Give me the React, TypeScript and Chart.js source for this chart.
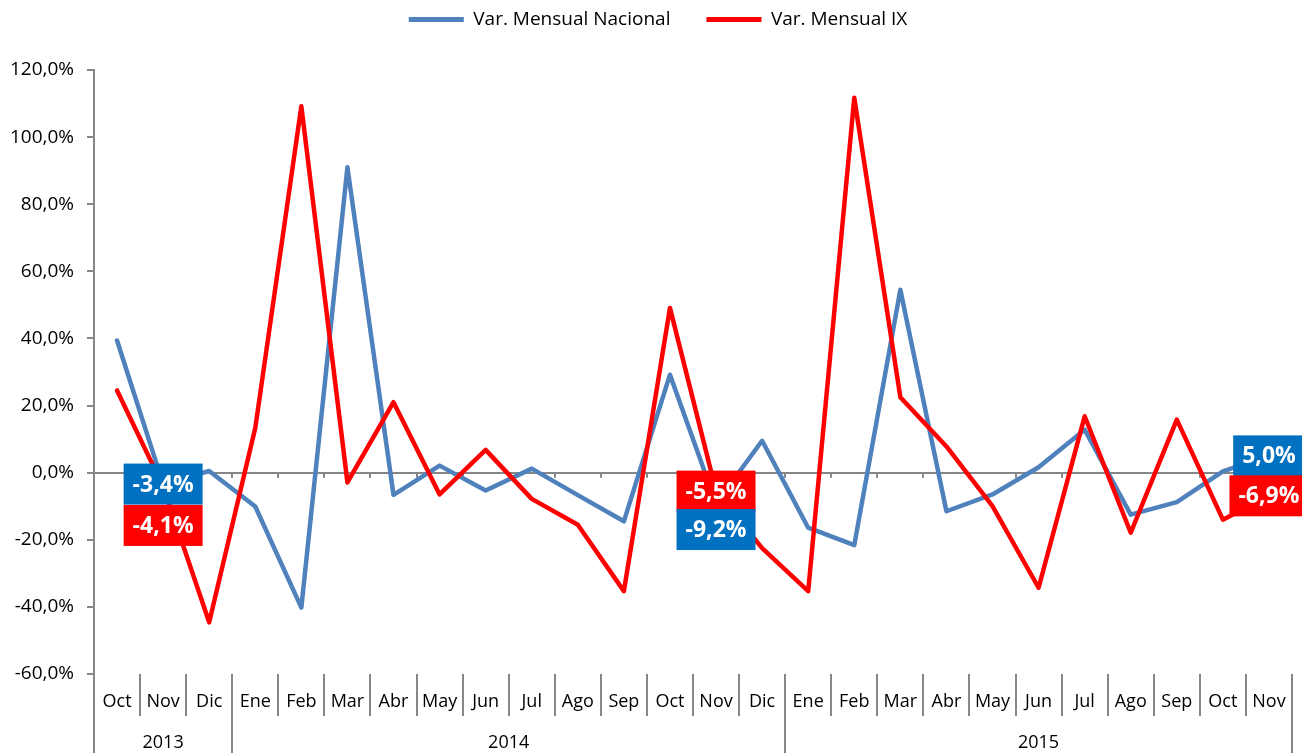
import React, { useEffect, useRef } from 'react';
import { Chart, registerables } from 'chart.js';
Chart.register(...registerables);

const months = ['Oct','Nov','Dic','Ene','Feb','Mar','Abr','May','Jun','Jul','Ago','Sep','Oct','Nov','Dic','Ene','Feb','Mar','Abr','May','Jun','Jul','Ago','Sep','Oct','Nov'];
const years = ['2013', '2014', '2015'];
const yearSpans = [3, 12, 11];
const nacional = [39.4,-3.4,0.5,-10.1,-40.2,91.0,-6.6,2.1,-5.3,1.2,-6.7,-14.5,29.2,-9.2,9.5,-16.4,-21.6,54.5,-11.5,-6.5,1.6,12.8,-12.5,-8.8,0.4,5.0];
const ix = [24.5,-4.1,-44.6,13.3,109.2,-2.9,21.0,-6.5,6.8,-7.8,-15.5,-35.3,49.1,-5.5,-22.5,-35.3,111.7,22.5,7.8,-10.0,-34.3,16.8,-17.9,15.8,-14.0,-6.9];
const seriesNames = ['Var. Mensual Nacional', 'Var. Mensual IX'];
const yMin = -60;
const yMax = 120;
const yStep = 20;
// labelled points: [dataset, index, vertical shift]
const labelDefs = [[0, 1, 0], [1, 1, 39], [1, 13, 0], [0, 13, 26], [0, 25, 0], [1, 25, 0]];

const GRAY = '#868686';
const LINE_COLORS = ['#4F81BD', '#FF0000'];
const BOX_COLORS = ['#0070C0', '#FF0000'];
const FONT = '"Open Sans", "Noto Sans", sans-serif';

const fmt = (v: number) => v.toFixed(1).replace('.', ',') + '%';

export default function App() {
  const ref = useRef<HTMLCanvasElement>(null);
  useEffect(() => {
    document.body.style.margin = '0';
    Chart.defaults.font.family = FONT;
    Chart.defaults.color = '#000';

    const extras = {
      id: 'extras',
      afterInit(chart: any) {
        const lg = chart.legend;
        if (lg) {
          const orig = lg.fit;
          lg.fit = function () {
            orig.call(this);
            this.height = 96;
          };
        }
      },
      afterLayout(chart: any) {
        const lg = chart.legend;
        if (lg) {
          lg.left += 12;
          lg.right += 12;
        }
      },
      beforeDatasetsDraw(chart: any) {
        const ctx = chart.ctx;
        const xs = chart.scales.x;
        const ys = chart.scales.y;
        const n = months.length;
        const w = (xs.right - xs.left) / n;
        const y0 = ys.getPixelForValue(0);
        ctx.save();
        ctx.strokeStyle = GRAY;
        ctx.lineWidth = 2;
        for (let k = 1; k <= n; k++) {
          const x = Math.round(xs.left + k * w);
          ctx.beginPath();
          ctx.moveTo(x, y0);
          ctx.lineTo(x, y0 + 5);
          ctx.stroke();
        }
        ctx.restore();
      },
      afterDatasetsDraw(chart: any) {
        const ctx = chart.ctx;
        ctx.save();
        ctx.font = 'bold 23px ' + FONT;
        ctx.textAlign = 'center';
        ctx.textBaseline = 'middle';
        for (const [ds, idx, dy] of labelDefs) {
          const el = chart.getDatasetMeta(ds).data[idx];
          const v = chart.data.datasets[ds].data[idx] as number;
          const text = fmt(v);
          const tw = ctx.measureText(text).width;
          const bw = tw + 18;
          const bh = 41;
          const cx = el.x;
          const cy = el.y + dy;
          ctx.fillStyle = BOX_COLORS[ds];
          ctx.fillRect(cx - bw / 2, cy - bh / 2, bw, bh);
          ctx.fillStyle = '#FFFFFF';
          ctx.fillText(text, cx, cy + 1);
        }
        ctx.restore();
      },
      afterDraw(chart: any) {
        const ctx = chart.ctx;
        const xs = chart.scales.x;
        const n = months.length;
        const w = (xs.right - xs.left) / n;
        ctx.save();
        ctx.strokeStyle = GRAY;
        ctx.lineWidth = 2;
        ctx.fillStyle = '#000';
        ctx.font = '18px ' + FONT;
        ctx.textAlign = 'center';
        ctx.textBaseline = 'middle';
        let start = 0;
        const bounds = [0];
        years.forEach((yr, i) => {
          const end = start + yearSpans[i];
          const xc = xs.left + ((start + end) / 2) * w;
          ctx.fillText(yr, xc, 743);
          bounds.push(end);
          start = end;
        });
        for (const b of bounds) {
          const x = Math.round(xs.left + b * w);
          ctx.beginPath();
          ctx.moveTo(x, xs.top);
          ctx.lineTo(x, chart.height);
          ctx.stroke();
        }
        ctx.restore();
      },
    };

    const chart = new Chart(ref.current as HTMLCanvasElement, {
      type: 'line',
      data: {
        labels: months,
        datasets: [
          {
            label: seriesNames[0],
            data: nacional,
            borderColor: LINE_COLORS[0],
            backgroundColor: LINE_COLORS[0],
            borderWidth: 4.5,
            pointRadius: 0,
            tension: 0,
            borderCapStyle: 'round',
            borderJoinStyle: 'round',
            order: 2,
          },
          {
            label: seriesNames[1],
            data: ix,
            borderColor: LINE_COLORS[1],
            backgroundColor: LINE_COLORS[1],
            borderWidth: 4.5,
            pointRadius: 0,
            tension: 0,
            borderCapStyle: 'round',
            borderJoinStyle: 'round',
            order: 1,
          },
        ],
      },
      options: {
        responsive: false,
        animation: false,
        devicePixelRatio: 1,
        events: [],
        layout: { padding: { top: -26, left: 0, right: 10, bottom: 0 } },
        plugins: {
          tooltip: { enabled: false },
          legend: {
            display: true,
            position: 'top',
            labels: {
              boxWidth: 55,
              boxHeight: 5,
              padding: 36,
              font: { size: 19, family: FONT },
              color: '#000',
              sort: (a: any, b: any) => a.datasetIndex - b.datasetIndex,
              generateLabels: (chart: any) => {
                const base = Chart.defaults.plugins.legend.labels.generateLabels(chart);
                return base.map((l: any) => ({ ...l, lineWidth: 0, fillStyle: LINE_COLORS[l.datasetIndex], strokeStyle: LINE_COLORS[l.datasetIndex] }));
              },
            },
          },
        },
        scales: {
          x: {
            type: 'category',
            offset: true,
            border: { display: false },
            grid: {
              display: true,
              offset: true,
              drawOnChartArea: false,
              drawTicks: true,
              tickLength: 42,
              color: GRAY,
              lineWidth: 2,
            },
            ticks: {
              autoSkip: false,
              maxRotation: 0,
              padding: -25,
              font: { size: 18, family: FONT },
              color: '#000',
            },
            afterFit: (s: any) => { s.height = 79; },
          },
          y: {
            min: yMin,
            max: yMax,
            border: { display: true, color: GRAY, width: 2 },
            grid: {
              drawOnChartArea: true,
              drawTicks: true,
              tickLength: 7,
              lineWidth: 2,
              color: (c: any) => (c.tick && c.tick.value === 0 ? GRAY : 'rgba(0,0,0,0)'),
              tickColor: GRAY,
            },
            ticks: {
              stepSize: yStep,
              padding: 13,
              font: { size: 19, family: FONT },
              color: '#000',
              callback: (v: any) => fmt(Number(v)),
            },
            afterFit: (s: any) => { s.width = 94; },
          },
        },
      },
      plugins: [extras],
    } as any);
    return () => chart.destroy();
  }, []);

  return (
    <div style={{ width: 1302, height: 753, overflow: 'hidden' }}>
      <canvas ref={ref} width={1302} height={753} style={{ display: 'block' }} />
    </div>
  );
}
